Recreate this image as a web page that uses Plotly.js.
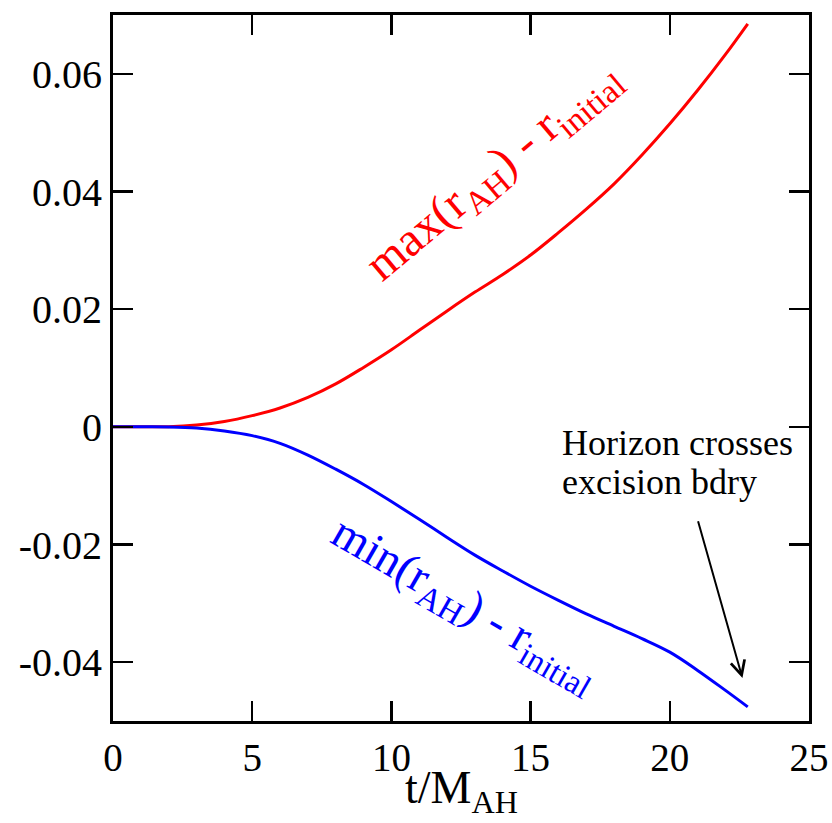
<!DOCTYPE html>
<html>
<head>
<meta charset="utf-8">
<script src="https://cdn.plot.ly/plotly-3.0.1.min.js"></script>
<style>html,body{margin:0;padding:0;background:#fff;}#chart{width:832px;height:823px;}</style>
</head>
<body>
<div id="chart"></div>
<script>
// t / M_AH
const tValues = [0, 1, 2, 3, 4, 5, 6, 7, 8, 9, 10, 11, 12, 13, 14, 15, 16, 17, 18, 19, 20, 21, 22, 22.8];
// max(r_AH) - r_initial
const maxR = [0, 0, 0.00002, 0.0003, 0.0009, 0.0019, 0.0032, 0.0050, 0.0073, 0.0101, 0.0131, 0.0164, 0.0197, 0.0229, 0.0259, 0.0292, 0.0330, 0.0370, 0.0413, 0.0462, 0.0515, 0.0572, 0.0633, 0.0685];
// min(r_AH) - r_initial
const minR = [0, 0, -0.00002, -0.0002, -0.0007, -0.0015, -0.0028, -0.0048, -0.0072, -0.0098, -0.0127, -0.0157, -0.0188, -0.0218, -0.0245, -0.0271, -0.0295, -0.0318, -0.0339, -0.0360, -0.0383, -0.0414, -0.0448, -0.0476];

const xTicks = [0, 5, 10, 15, 20, 25];
const yTicks = [-0.04, -0.02, 0, 0.02, 0.04, 0.06];
const yTickText = ["-0.04", "-0.02", "0", "0.02", "0.04", "0.06"];
const xTitle = "t/M<sub>AH</sub>";

const font = "Liberation Serif, Times New Roman, serif";

const traces = [
  {x: tValues, y: maxR, mode: "lines", line: {color: "#ff0000", width: 3, shape: "spline"}, hoverinfo: "skip"},
  {x: tValues, y: minR, mode: "lines", line: {color: "#0000ff", width: 3, shape: "spline"}, hoverinfo: "skip"}
];

const layout = {
  width: 832, height: 823,
  margin: {l: 113, r: 23, t: 15, b: 102},
  paper_bgcolor: "#fff", plot_bgcolor: "#fff",
  showlegend: false,
  font: {family: font, color: "#000"},
  xaxis: {
    range: [0, 25], tickvals: xTicks, ticktext: xTicks.map(String),
    ticks: "inside", ticklen: 20, tickwidth: 2.5, tickcolor: "#000",
    showline: true, linewidth: 3, linecolor: "#000", mirror: "ticks",
    showgrid: false, zeroline: false,
    tickfont: {family: font, size: 39, color: "#000"}
  },
  yaxis: {
    range: [-0.05, 0.07], tickvals: yTicks, ticktext: yTickText,
    ticks: "inside", ticklen: 20, tickwidth: 2.5, tickcolor: "#000",
    showline: true, linewidth: 3, linecolor: "#000", mirror: "ticks",
    showgrid: false, zeroline: false,
    tickfont: {family: font, size: 40, color: "#000"}
  },
  annotations: [
    {x: 0.5, y: -0.099, xref: "paper", yref: "paper", yanchor: "middle", text: xTitle, showarrow: false,
     font: {family: font, size: 46, color: "#000"}},
    {x: 13.68, y: 0.0433, xref: "x", yref: "y", text: "max(r<sub>AH</sub>) - r<sub>initial</sub>", showarrow: false,
     textangle: -40, font: {family: font, size: 48, color: "#ff0000"}},
    {x: 12.62, y: -0.0303, xref: "x", yref: "y", text: "min(r<sub>AH</sub>) - r<sub>initial</sub>", showarrow: false,
     textangle: 30, font: {family: font, size: 47, color: "#0000ff"}},
    {x: 16.07, y: -0.0027, xref: "x", yref: "y", xanchor: "left", text: "Horizon crosses", showarrow: false,
     font: {family: font, size: 36, color: "#000"}},
    {x: 16.07, y: -0.0093, xref: "x", yref: "y", xanchor: "left", text: "excision bdry", showarrow: false,
     font: {family: font, size: 36, color: "#000"}},
    {x: 22.61, y: -0.0427, xref: "x", yref: "y", ax: 21.0, ay: -0.0158, axref: "x", ayref: "y",
     text: "", showarrow: true, arrowhead: 5, arrowsize: 1.4, arrowwidth: 2, arrowcolor: "#000"}
  ]
};

Plotly.newPlot("chart", traces, layout, {staticPlot: true});
</script>
</body>
</html>
